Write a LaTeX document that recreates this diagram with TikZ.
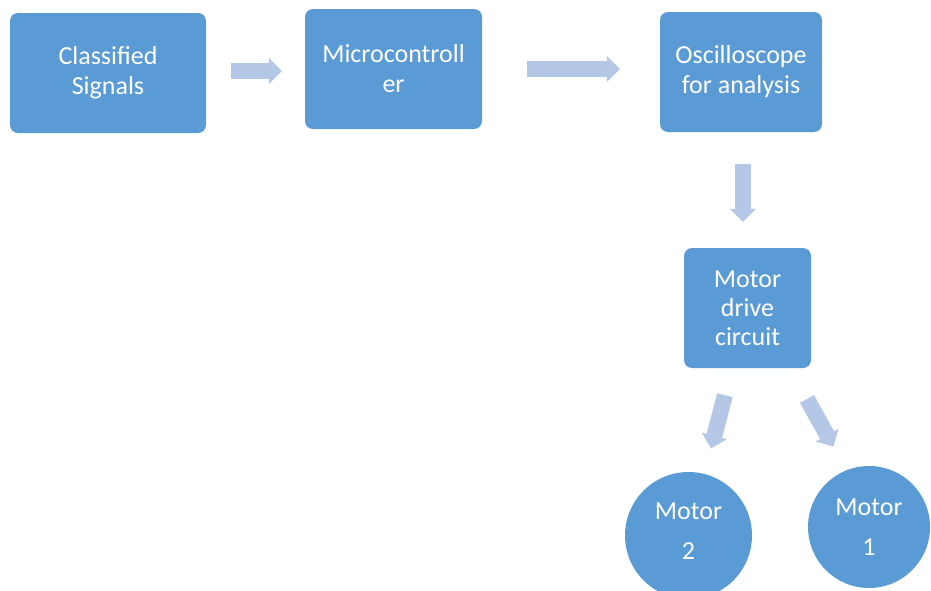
\documentclass[tikz,border=0pt]{standalone}
\usepackage{fontspec}
\setmainfont{Carlito}
\usetikzlibrary{arrows.meta,calc}
\definecolor{boxblue}{HTML}{5B9BD5}
\definecolor{arrowblue}{HTML}{B4C7E7}
\begin{document}
\begin{tikzpicture}[x=1pt,y=-1pt,
  block/.style={fill=boxblue, draw=none, rounded corners=8pt, inner sep=0pt,
    text=white, align=center, font=\fontsize{26}{30}\selectfont},
  motor/.style={circle, fill=boxblue, draw=none, inner sep=0pt,
    text=white, align=center, font=\fontsize{26}{40}\selectfont},
  blk/.style={draw=arrowblue, line width=16pt, line cap=butt,
    -{Triangle[width=26pt,length=13pt,line width=0pt]}}]
\path[use as bounding box, clip] (0,0) rectangle (931,590);

% processing chain
\node[block, minimum width=196pt, minimum height=120pt] (cs) at (108,73) {Classified\\Signals};
\node[block, minimum width=177pt, minimum height=120pt] (mc) at (393.5,69) {Microcontroll\\er};
\node[block, minimum width=162pt, minimum height=120pt] (osc) at (741,72) {Oscilloscope\\for analysis};
\node[block, minimum width=127pt, minimum height=120pt, font=\fontsize{26}{29}\selectfont] (drv) at (747.5,308) {Motor\\drive\\circuit};

% motors
\node[motor, minimum size=127pt, text depth=8pt] (m2) at (688.5,535.5) {Motor\\2};
\node[motor, minimum size=122pt] (m1) at (869,527) {Motor\\1};

% block arrows
\draw[blk, shorten <=25pt, shorten >=23pt] ([yshift=2pt]cs.east) -- ([yshift=2pt]cs.east -| mc.west);
\draw[blk, shorten <=45pt, shorten >=40pt] (mc.east) -- (mc.east -| osc.west);
\draw[blk, shorten <=32pt, shorten >=26pt] ([xshift=2pt]osc.south) -- ([xshift=2pt]osc.south |- drv.north);
\draw[blk, shorten <=90pt, shorten >=90pt] (drv.center) -- (m2.center);
\draw[blk, shorten <=104pt, shorten >=92pt] ([xshift=9pt]drv.center) -- ([xshift=9pt]m1.center);
\end{tikzpicture}
\end{document}
